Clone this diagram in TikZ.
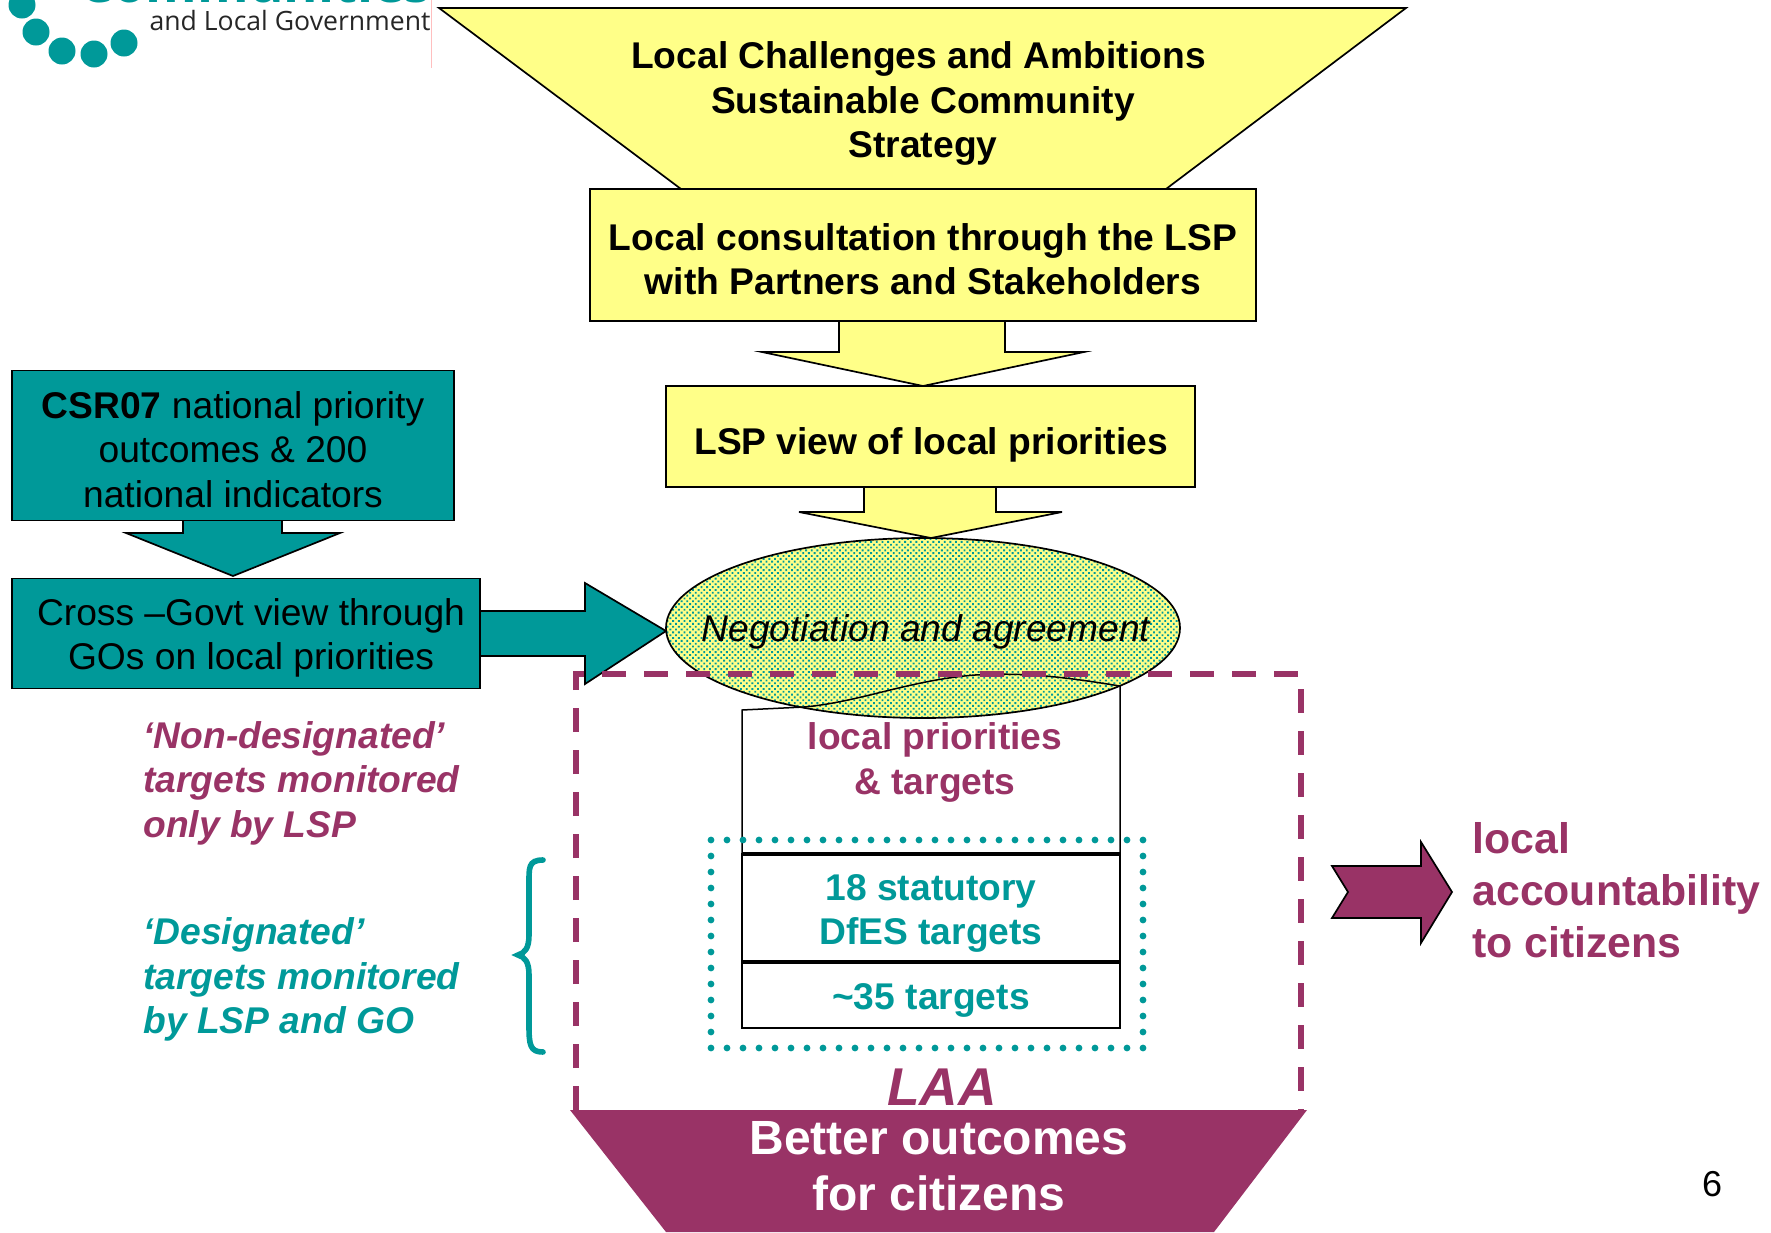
\documentclass[tikz,border=0pt]{standalone}
\usepackage{fontspec}
\setmainfont{Liberation Sans}
\newfontfamily\logofont{Open Sans}
\usetikzlibrary{patterns.meta}
\definecolor{teal0}{HTML}{009999}
\definecolor{plum0}{HTML}{993366}
\definecolor{yel0}{HTML}{FFFF88}
\tikzset{
  x=0.5pt,y=-0.5pt,
  outl/.style={draw=black,line width=0.85pt,line join=miter},
  yshape/.style={outl,fill=yel0},
  tshape/.style={outl,fill=teal0},
  ybox/.style={yshape,inner sep=0pt},
  tbox/.style={tshape,inner sep=0pt},
  lbl/.style={inner sep=0pt,align=center,font=\fontsize{18.6}{22.3}\selectfont\bfseries},
  reg/.style={inner sep=0pt,align=center,font=\fontsize{18.6}{22.3}\selectfont},
  side/.style={inner sep=0pt,align=left,anchor=west,font=\fontsize{18.6}{22.3}\selectfont\bfseries\itshape},
  dot0/.style={circle,fill=teal0,inner sep=0pt,minimum size=13.5pt},
}
\begin{document}
\begin{tikzpicture}
\useasboundingbox (0,0) rectangle (1771,1232);
% logo
\begin{scope}
\clip (0,0) rectangle (431,70);
\node[dot0] (d1) at (22,5) {};
\node[dot0] (d2) at (36,32) {};
\node[dot0] (d3) at (62,51) {};
\node[dot0] (d4) at (94,54) {};
\node[dot0] (d5) at (124,43) {};
\node[anchor=base east,inner sep=0pt,text=teal0,font=\logofont\fontsize{26.3}{27}\selectfont\bfseries] (logoA) at (431,2) {Communities};
\node[anchor=base east,inner sep=0pt,text=black!85,font=\logofont\fontsize{13.3}{14}\selectfont] (logoB) at (431,30) {and Local Government};
\end{scope}
\draw[red!25,line width=0.5pt] (431,0) -- (431,68);
% funnel
\path[yshape] (439,8) -- (1406,8) -- (1166,189) -- (681,189) -- cycle;
\node[lbl] (t1) at (923,103.5) {Local Challenges and Ambitions\hspace*{4.5pt}\\Sustainable Community\\Strategy};
% arrows
\path[yshape] (839,315) -- (839,352) -- (762,352) -- (923,386) -- (1084,352) -- (1005,352) -- (1005,315) -- cycle;
\path[yshape] (864,480) -- (864,512) -- (799,512) -- (931,538) -- (1062,512) -- (996,512) -- (996,480) -- cycle;
\node[ybox,minimum width=333pt,minimum height=66pt] (b2) at (923,255) {};
\node[lbl] (b2t) at (923,259) {Local consultation through the LSP\\with Partners and Stakeholders};
\node[ybox,minimum width=264.5pt,minimum height=50.5pt] (b3) at (930.5,436.5) {};
\node[lbl] (b3t) at (931,445) {LSP view of local priorities};
% teal side
\path[tshape] (183,515) -- (183,533) -- (126,533) -- (233,576) -- (340,533) -- (282,533) -- (282,515) -- cycle;
\node[tbox,minimum width=221pt,minimum height=75pt] (c1) at (233,445.5) {};
\node[reg] (c1t) at (233,449.5) {\textbf{CSR07} national priority\\outcomes \& 200\\national indicators};
\path[tshape] (470,611) -- (585,611) -- (585,583) -- (666,631) -- (585,684) -- (585,656) -- (470,656) -- cycle;
\node[tbox,minimum width=234pt,minimum height=55pt] (c2) at (246,633.5) {};
\node[reg] (c2t) at (251,638) {Cross –Govt view through\\GOs on local priorities};
% ellipse
\path[fill=yel0] (923,628) ellipse [x radius=257,y radius=90];
\path[pattern={Dots[distance=2pt,radius=0.66pt,angle=45]},pattern color=teal0] (923,628) ellipse [x radius=257,y radius=90];
\draw[black,line width=0.85pt] (923,628) ellipse [x radius=257,y radius=90];
\node[inner sep=0pt,font=\fontsize{18.6}{22.3}\selectfont\itshape] (neg) at (926,632) {Negotiation and agreement};
% target stack
\draw[black,line width=0.75pt] (742,854) -- (742,710) -- (804,707) .. controls (860,702) and (910,680) .. (975,675) .. controls (1030,672) and (1070,678) .. (1120,686) -- (1120,854);
\draw[black,line width=0.8pt] (742,854) rectangle (1120,1028);
\draw[black,line width=1.6pt] (742,854) -- (1120,854);
\draw[black,line width=1.6pt] (742,962) -- (1120,962);
\draw[teal0,line width=3.4pt,line cap=round,dash pattern=on 0pt off 8pt] (711,840) rectangle (1143,1048);
\node[lbl,text=plum0] (lp) at (935,762.5) {local priorities\\\& targets};
\node[lbl,text=teal0] (st) at (931,913.5) {18 statutory\\DfES targets};
\node[lbl,text=teal0] (tt) at (931,1000.5) {\textasciitilde35 targets};
% LAA dashed
\draw[plum0,line width=3pt,dash pattern=on 12pt off 9pt] (576,1110) -- (576,674) -- (1301,674) -- (1301,1110);
\node[inner sep=0pt,text=plum0,font=\fontsize{26.6}{27}\selectfont\bfseries\itshape] (laa) at (942,1087) {LAA};
% outcome
\path[fill=plum0] (570,1110) -- (1307,1110) -- (1214,1232) -- (666,1232) -- cycle;
\node[inner sep=0pt,align=center,text=white,font=\fontsize{24}{28.2}\selectfont\bfseries] (out) at (939,1166) {Better outcomes\\for citizens};
% side texts
\node[side,text=plum0] (nd) at (143,783) {‘Non-designated’\\targets monitored\\only by LSP};
\node[side,text=teal0] (de) at (143,979.5) {‘Designated’\\targets monitored\\by LSP and GO};
\draw[teal0,line width=2.8pt,line cap=round] (543,860) .. controls (528,860) and (529,868) .. (529,885) -- (529,935) .. controls (529,948) and (525,953) .. (518,955) .. controls (525,957) and (529,962) .. (529,975) -- (529,1025) .. controls (529,1045) and (530,1052) .. (543,1052);
% accountability arrow
\path[outl,fill=plum0] (1332,866) -- (1421,866) -- (1421,842) -- (1452,892) -- (1421,943) -- (1421,918) -- (1332,918) -- (1348,892) -- cycle;
\node[inner sep=0pt,align=left,anchor=west,text=plum0,font=\fontsize{21.4}{26}\selectfont\bfseries] (acc) at (1472,890) {local\\accountability\\to citizens};
\node[inner sep=0pt,font=\fontsize{18}{20}\selectfont] (pg) at (1712,1184) {6};
\end{tikzpicture}
\end{document}
